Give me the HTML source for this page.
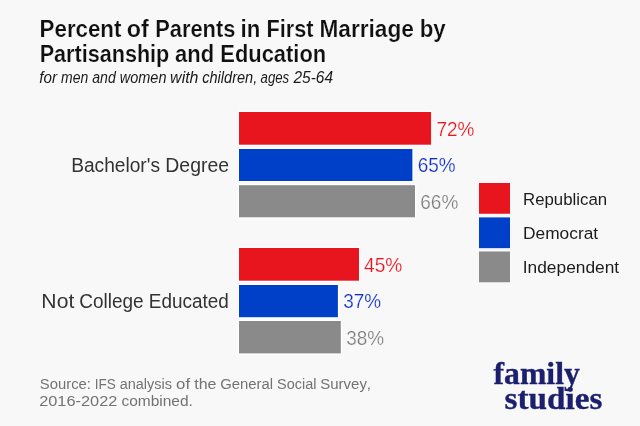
<!DOCTYPE html>
<html lang="en">
<head>
<meta charset="utf-8">
<title>Percent of Parents in First Marriage by Partisanship and Education</title>
<style>
  html, body { margin: 0; padding: 0; background: #f8f8f8; }
  body { width: 640px; height: 426px; overflow: hidden; }
  svg { display: block; }
  text { font-family: "Liberation Sans", sans-serif; font-kerning: none; }
  .title { font-weight: bold; font-size: 23px; fill: #101010; stroke: #fafafa; stroke-width: 0.2px; }
  .sub { font-style: italic; font-size: 15.6px; fill: #1a1a1a; }
  .cat { font-size: 19.6px; fill: #333; }
  .val { font-size: 20.8px; stroke: #fbfbfb; stroke-width: 0.22px; stroke-linejoin: round; }
  .leg { font-size: 17.2px; fill: #1c1c1c; }
  .src { font-size: 15.5px; fill: #737373; }
  .logo { font-family: "Liberation Serif", serif; font-weight: bold; font-size: 31.5px; fill: #1b1f6e; stroke: #1b1f6e; stroke-width: 0.35px; }
  .bar { stroke: #fff; stroke-width: 2.6px; paint-order: stroke; }
</style>
</head>
<body>
<svg width="640" height="426" viewBox="0 0 640 426">
  <rect width="640" height="426" fill="#f8f8f8"/>

  <!-- title -->
  <text class="title" y="36.7">
    <tspan x="39.61" textLength="81.81" lengthAdjust="spacingAndGlyphs">Percent</tspan> 
    <tspan x="126.89" textLength="22.00" lengthAdjust="spacingAndGlyphs">of</tspan> 
    <tspan x="155.20" textLength="80.15" lengthAdjust="spacingAndGlyphs">Parents</tspan> 
    <tspan x="240.52" textLength="19.78" lengthAdjust="spacingAndGlyphs">in</tspan> 
    <tspan x="266.43" textLength="46.99" lengthAdjust="spacingAndGlyphs">First</tspan> 
    <tspan x="319.40" textLength="94.56" lengthAdjust="spacingAndGlyphs">Marriage</tspan> 
    <tspan x="419.64" textLength="25.98" lengthAdjust="spacingAndGlyphs">by</tspan>
  </text>
  <text class="title" y="61.9">
    <tspan x="39.65" textLength="129.68" lengthAdjust="spacingAndGlyphs">Partisanship</tspan> 
    <tspan x="175.01" textLength="39.10" lengthAdjust="spacingAndGlyphs">and</tspan> 
    <tspan x="220.35" textLength="105.81" lengthAdjust="spacingAndGlyphs">Education</tspan>
  </text>
  <text class="sub" y="82.9">
    <tspan x="39.19" textLength="17.78" lengthAdjust="spacingAndGlyphs">for</tspan> 
    <tspan x="61.09" textLength="27.19" lengthAdjust="spacingAndGlyphs">men</tspan> 
    <tspan x="92.21" textLength="23.55" lengthAdjust="spacingAndGlyphs">and</tspan> 
    <tspan x="119.81" textLength="46.69" lengthAdjust="spacingAndGlyphs">women</tspan> 
    <tspan x="170.14" textLength="28.34" lengthAdjust="spacingAndGlyphs">with</tspan> 
    <tspan x="202.21" textLength="55.04" lengthAdjust="spacingAndGlyphs">children,</tspan> 
    <tspan x="260.52" textLength="28.72" lengthAdjust="spacingAndGlyphs">ages</tspan> 
    <tspan x="293.44" textLength="39.64" lengthAdjust="spacingAndGlyphs">25-64</tspan>
  </text>
  <!-- bars -->
  <rect class="bar" x="239" y="112" width="192.1" height="32.7" fill="#e8141e"/>
  <rect class="bar" x="239" y="149" width="173.4" height="32" fill="#0040c8"/>
  <rect class="bar" x="239" y="185.2" width="176" height="32.1" fill="#8a8a8a"/>
  <rect class="bar" x="239" y="248" width="120" height="32.7" fill="#e8141e"/>
  <rect class="bar" x="239" y="285" width="98.9" height="32.2" fill="#0040c8"/>
  <rect class="bar" x="239" y="321" width="101.8" height="32.4" fill="#8a8a8a"/>
  <text class="val" y="135.8" fill="#e8141e"><tspan x="436.43" textLength="37.92" lengthAdjust="spacingAndGlyphs">72%</tspan></text>
  <text class="val" y="172.3" fill="#1030c4"><tspan x="417.74" textLength="37.91" lengthAdjust="spacingAndGlyphs">65%</tspan></text>
  <text class="val" y="208.8" fill="#7e7e7e"><tspan x="420.34" textLength="37.91" lengthAdjust="spacingAndGlyphs">66%</tspan></text>
  <text class="val" y="271.8" fill="#e8141e"><tspan x="364.01" textLength="38.24" lengthAdjust="spacingAndGlyphs">45%</tspan></text>
  <text class="val" y="308.3" fill="#1030c4"><tspan x="343.26" textLength="37.89" lengthAdjust="spacingAndGlyphs">37%</tspan></text>
  <text class="val" y="344.9" fill="#7e7e7e"><tspan x="346.16" textLength="37.89" lengthAdjust="spacingAndGlyphs">38%</tspan></text>
  <!-- category labels -->
  <text class="cat" y="172.3">
    <tspan x="71.13" textLength="88.87" lengthAdjust="spacingAndGlyphs">Bachelor's</tspan> 
    <tspan x="165.35" textLength="63.71" lengthAdjust="spacingAndGlyphs">Degree</tspan>
  </text>
  <text class="cat" y="308">
    <tspan x="41.36" textLength="32.92" lengthAdjust="spacingAndGlyphs">Not</tspan> 
    <tspan x="79.30" textLength="64.30" lengthAdjust="spacingAndGlyphs">College</tspan> 
    <tspan x="148.75" textLength="80.07" lengthAdjust="spacingAndGlyphs">Educated</tspan>
  </text>
  <!-- legend -->
  <rect x="479" y="183" width="31" height="30.75" fill="#e8141e"/>
  <rect x="479" y="217.4" width="31" height="30.75" fill="#0040c8"/>
  <rect x="479" y="251.5" width="31" height="30.75" fill="#8a8a8a"/>
  <text class="leg" y="205"><tspan x="523.02" textLength="84.07" lengthAdjust="spacingAndGlyphs">Republican</tspan></text>
  <text class="leg" y="239.1"><tspan x="522.98" textLength="75.15" lengthAdjust="spacingAndGlyphs">Democrat</tspan></text>
  <text class="leg" y="273.25"><tspan x="522.80" textLength="96.33" lengthAdjust="spacingAndGlyphs">Independent</tspan></text>
  <!-- source -->
  <text class="src" y="389.2">
    <tspan x="39.83" textLength="51.10" lengthAdjust="spacingAndGlyphs">Source:</tspan> 
    <tspan x="94.63" textLength="21.12" lengthAdjust="spacingAndGlyphs">IFS</tspan> 
    <tspan x="119.64" textLength="52.48" lengthAdjust="spacingAndGlyphs">analysis</tspan> 
    <tspan x="176.08" textLength="13.98" lengthAdjust="spacingAndGlyphs">of</tspan> 
    <tspan x="194.27" textLength="22.25" lengthAdjust="spacingAndGlyphs">the</tspan> 
    <tspan x="220.31" textLength="52.82" lengthAdjust="spacingAndGlyphs">General</tspan> 
    <tspan x="277.06" textLength="39.36" lengthAdjust="spacingAndGlyphs">Social</tspan> 
    <tspan x="320.34" textLength="50.70" lengthAdjust="spacingAndGlyphs">Survey,</tspan>
  </text>
  <text class="src" y="405.9">
    <tspan x="39.18" textLength="78.21" lengthAdjust="spacingAndGlyphs">2016-2022</tspan> 
    <tspan x="121.42" textLength="71.50" lengthAdjust="spacingAndGlyphs">combined.</tspan>
  </text>
  <!-- logo -->
  <text class="logo" x="493.5" y="383.9" textLength="86.3" lengthAdjust="spacingAndGlyphs">family</text>
  <text class="logo" x="504.6" y="409.1" textLength="97.8" lengthAdjust="spacingAndGlyphs">studies</text>
</svg>
</body>
</html>
